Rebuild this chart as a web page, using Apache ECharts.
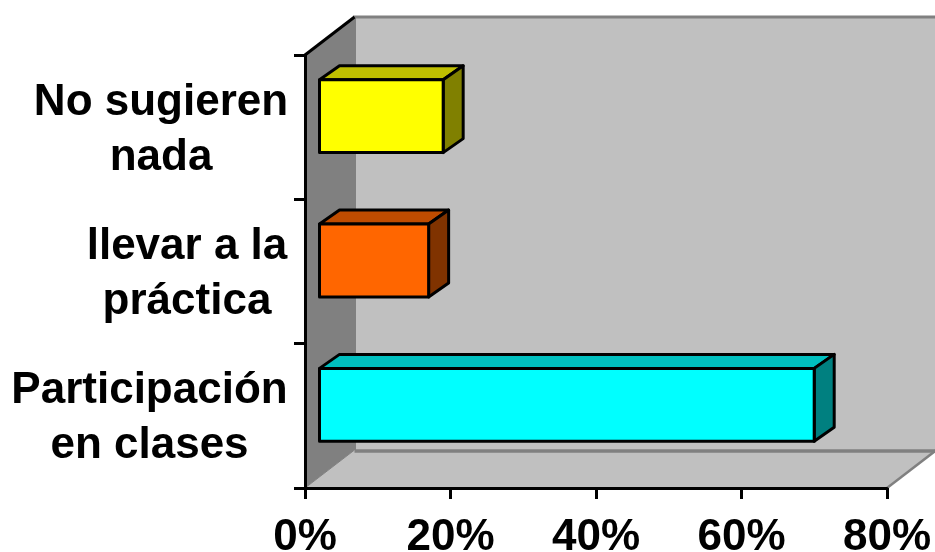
<!DOCTYPE html>
<html>
<head>
<meta charset="utf-8">
<style>html,body{margin:0;padding:0;background:#fff}#c{width:935px;height:552px}</style>
<script src="https://cdn.jsdelivr.net/npm/echarts@6/dist/echarts.min.js"></script>
</head>
<body>
<div id="c"></div>
<script>
const categories = ['Participación\nen clases', 'llevar a la\npráctica', 'No sugieren\nnada'];
const values = [68, 15, 17];
const frontColors = ['#00FFFF', '#FF6600', '#FFFF00'];
const topColors = ['#00BFBF', '#BF4C00', '#BFBF00'];
const sideColors = ['#008080', '#803300', '#808000'];
const tickValues = [0, 20, 40, 60, 80];

const wallDepth = [49.5, -38];
const barOffset = [14.5, -11];
const barDepth = [20, -14];
const font = '"Liberation Sans", Arial, sans-serif';

const chart = echarts.init(document.getElementById('c'), null, {renderer: 'canvas'});

function poly(points, fill, stroke, lw) {
  return {type: 'polygon', shape: {points}, style: {fill, stroke: stroke || 'none', lineWidth: lw || 0, lineJoin: 'round'}};
}
function line(points, stroke, lw) {
  return {type: 'polyline', shape: {points}, style: {fill: 'none', stroke, lineWidth: lw}};
}

function renderWalls(params) {
  const r = params.coordSys;
  const dx = wallDepth[0], dy = wallDepth[1];
  const L = r.x, T = r.y, R = r.x + r.width, B = r.y + r.height;
  return {type: 'group', children: [
    poly([[L + dx, T + dy], [R + dx, T + dy], [R + dx, B + dy], [L + dx, B + dy]], '#C0C0C0'),
    poly([[L, B], [L + dx, B + dy], [R + dx, B + dy], [R, B]], '#C0C0C0'),
    poly([[L, T], [L + dx, T + dy], [L + dx, B + dy], [L, B]], '#808080'),
    line([[L + dx, B + dy], [L + dx, T + dy], [R + dx, T + dy]], '#808080', 3),
    line([[L + dx, B + dy + 1], [R + dx, B + dy + 1]], '#808080', 3.5),
    line([[L, B], [L + dx, B + dy]], '#808080', 1),
    line([[R, B], [R + dx, B + dy]], '#808080', 2.5),
    line([[L, T], [L + dx, T + dy]], '#000', 3)
  ]};
}

function renderBar(params, api) {
  const i = params.dataIndex;
  const end = api.coord([api.value(0), api.value(1)]);
  const zero = api.coord([0, api.value(1)]);
  const h = api.size([0, 1])[1] * 0.505;
  const x0 = zero[0] + barOffset[0], x1 = end[0] + barOffset[0];
  const y0 = end[1] + barOffset[1] - h / 2, y1 = y0 + h;
  const dx = barDepth[0], dy = barDepth[1];
  return {type: 'group', children: [
    poly([[x0, y0], [x0 + dx, y0 + dy], [x1 + dx, y0 + dy], [x1, y0]], topColors[i], '#000', 3),
    poly([[x1, y0], [x1 + dx, y0 + dy], [x1 + dx, y1 + dy], [x1, y1]], sideColors[i], '#000', 3),
    poly([[x0, y0], [x1, y0], [x1, y1], [x0, y1]], frontColors[i], '#000', 3)
  ]};
}

const labelWidths = {a: 275, b: 200, c: 252};
const labelKeys = ['a', 'b', 'c'];
const rich = {};
labelKeys.forEach(k => {
  rich[k] = {width: labelWidths[k], align: 'center', fontSize: 44, fontWeight: 'bold', fontFamily: font, color: '#000', lineHeight: 55};
});

chart.setOption({
  animation: false,
  backgroundColor: '#fff',
  grid: {left: 305, top: 55, width: 582, height: 433, containLabel: false, outerBoundsMode: 'none'},
  xAxis: {
    type: 'value', min: tickValues[0], max: tickValues[tickValues.length - 1], interval: 20, z: 5,
    axisLine: {show: true, lineStyle: {color: '#000', width: 3}},
    axisTick: {show: true, length: 11, lineStyle: {color: '#000', width: 3}},
    splitLine: {show: false},
    axisLabel: {
      formatter: '{value}%', margin: 28, color: '#000', fontSize: 44, fontWeight: 'bold',
      fontFamily: font, showMinLabel: true, showMaxLabel: true, hideOverlap: false
    }
  },
  yAxis: {
    type: 'category', data: categories, z: 5,
    axisLine: {show: true, lineStyle: {color: '#000', width: 3}},
    axisTick: {show: true, length: 11, alignWithLabel: false, lineStyle: {color: '#000', width: 3}},
    splitLine: {show: false},
    axisLabel: {
      interval: 0, margin: 18, align: 'right', verticalAlign: 'middle', padding: [6, 0, 0, 0],
      formatter: (v, i) => v.split('\n').map(s => '{' + labelKeys[i] + '|' + s + '}').join('\n'),
      rich
    }
  },
  series: [
    {type: 'custom', z: 1, silent: true, clip: false, renderItem: renderWalls, data: [[0, 0]], encode: {x: 0, y: 1}},
    {type: 'custom', z: 6, silent: true, clip: false, renderItem: renderBar,
     data: values.map((v, i) => [v, i]), encode: {x: 0, y: 1}}
  ]
});
</script>
</body>
</html>
